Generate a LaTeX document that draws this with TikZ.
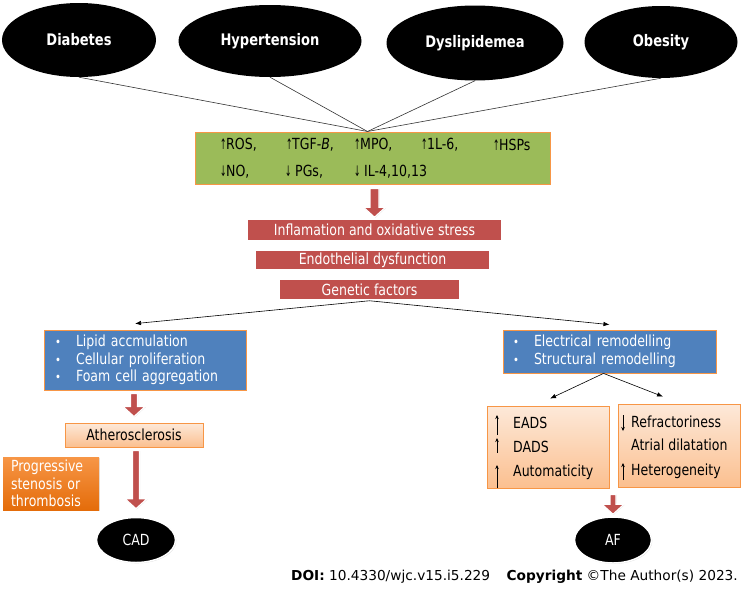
\documentclass[tikz,border=0pt]{standalone}
\usepackage{fontspec}
\setmainfont{DejaVu Sans}[FakeStretch=0.82]
\newfontfamily\doifont{DejaVu Sans}
\usepackage{graphicx}
\usepackage{tikz}
\usetikzlibrary{shapes.geometric,shadows,arrows.meta,calc}

\newcommand{\upar}{\makebox[6pt][l]{\scalebox{0.6}[0.95]{↑}}}
\newcommand{\dnar}{\makebox[6pt][l]{\scalebox{0.6}[0.95]{↓}}}
\newcommand{\bul}{\makebox[21pt][l]{\scalebox{0.8}{•}}}

% red block arrow from one node down to the next (x taken from the lower node)
\newcommand{\blockarrow}[5]{%
  \filldraw[fill=arrowred,draw=white,line width=1.2pt,
    drop shadow={fill=black!25,shadow xshift=0.6pt,shadow yshift=-0.6pt}]
    let \p1=(#1.south), \p2=(#2.north) in
    (\x2-#5pt,\y1-#3pt) -- (\x2+#5pt,\y1-#3pt) -- (\x2+#5pt,\y2+#4pt+10pt)
    -- (\x2+11pt,\y2+#4pt+10pt) -- (\x2,\y2+#4pt) -- (\x2-11pt,\y2+#4pt+10pt)
    -- (\x2-#5pt,\y2+#4pt+10pt) -- cycle;}

\begin{document}
\begin{tikzpicture}[x=1pt,y=-1pt,font=\fontsize{15.3}{17.5}\selectfont,
  risk/.style={ellipse,fill=black,text=white,inner sep=0pt,
    font=\fontsize{15.9}{16}\selectfont\bfseries},
  outcome/.style={ellipse,fill=black,text=white,draw=white,line width=1.5pt,inner sep=0pt,
    drop shadow={fill=black!30,shadow xshift=0.8pt,shadow yshift=-0.8pt}},
  redbox/.style={fill=boxred,draw=white,line width=1.5pt,text=white,inner sep=0pt,
    drop shadow={fill=black!25,shadow xshift=0.8pt,shadow yshift=-0.8pt}},
  bluebox/.style={fill=boxblue,draw=boxorange,line width=0.8pt,text=white,align=left,
    inner ysep=0pt,drop shadow={fill=black!20,shadow xshift=0.8pt,shadow yshift=-0.8pt}},
  litebox/.style={top color=liteorange,bottom color=peach,draw=boxorange,line width=0.8pt,
    inner sep=0pt,drop shadow={fill=black!20,shadow xshift=0.8pt,shadow yshift=-0.8pt}},
  txt/.style={inner sep=0pt,anchor=west},
  tiny arrow/.style={-{Stealth[length=4pt,width=3.5pt]},line width=0.6pt},
  link/.style={-{Latex[length=6pt,width=4.5pt]},line width=0.6pt}]
\definecolor{boxred}{HTML}{C0504D}
\definecolor{arrowred}{HTML}{C0504D}
\definecolor{boxblue}{HTML}{4F81BD}
\definecolor{boxgreen}{HTML}{9BBB59}
\definecolor{boxorange}{HTML}{F79646}
\definecolor{liteorange}{HTML}{FDE9D9}
\definecolor{peach}{HTML}{FBBF8F}
\definecolor{deeporange}{HTML}{E46C0A}

\useasboundingbox (0,0) rectangle (743,589);

% Risk factors
\node[risk,minimum width=154,minimum height=74] (diab) at (79,40) {Diabetes};
\node[risk,minimum width=183,minimum height=72] (hyper) at (270,41) {Hypertension};
\node[risk,minimum width=177,minimum height=75] (dyslip) at (475,43) {Dyslipidemea};
\node[risk,minimum width=153,minimum height=72] (obes) at (661,42) {Obesity};

% Mediators
\node[fill=boxgreen,draw=boxorange,line width=1pt,minimum width=355,minimum height=52,
  inner sep=0pt] (mediators) at (372.5,158) {};
\coordinate (hub) at ([xshift=-5pt]mediators.north);
\foreach \r in {diab,hyper,dyslip,obes}
  \draw[black!80,line width=0.6pt] (\r.south) -- (hub);
\foreach \x/\t [count=\i] in {220/{\upar ROS,},286/{\upar TGF-\textit{B},},
    354/{\upar MPO,},421/{\upar 1L-6,},493/{\upar HSPs}}
  \node[txt] (up\i) at (\x,145) {\t};
\foreach \x/\t [count=\i] in {220/{\dnar NO,},285/{\dnar\ PGs,},354/{\dnar\ IL-4,10,13}}
  \node[txt] (dn\i) at (\x,172) {\t};

% Inflammation cascade
\node[redbox,minimum width=255,minimum height=22] (inflam) at (374.5,230) {Inflamation and oxidative stress};
\node[redbox,minimum width=235,minimum height=20] (endo) at (372.5,260) {Endothelial dysfunction};
\node[redbox,minimum width=181,minimum height=21] (gene) at (369.5,289.5) {Genetic factors};
\blockarrow{mediators}{inflam}{4}{1}{4.5}

% Two branches
\node[bluebox,minimum height=60,text width=180,inner xsep=11pt] (lipid) at (145,360)
  {\bul Lipid accmulation\\\bul Cellular proliferation\\\bul Foam cell aggregation};
\node[bluebox,minimum height=43,text width=193,inner xsep=10pt] (remod) at (609.5,351.5)
  {\bul Electrical remodelling\\\bul Structural remodelling};
\draw[link] (gene.south) -- ([xshift=-10pt,yshift=6pt]lipid.north);
\draw[link] (gene.south) -- ([yshift=5pt]remod.north);

% CAD side
\node[litebox,minimum width=138,minimum height=24] (athero) at (134,435) {Atherosclerosis};
\node[top color=boxorange,bottom color=deeporange,text=white,align=left,text width=80,
  inner xsep=8pt,inner ysep=0pt,minimum height=53,
  drop shadow={fill=black!20,shadow xshift=0.8pt,shadow yshift=-0.8pt}] (prog) at (51,483.5)
  {Progressive\\stenosis or\\thrombosis};
\node[outcome,minimum width=79,minimum height=45] (cad) at (136,540) {CAD};
\blockarrow{lipid}{athero}{3}{6}{3.5}
\blockarrow{athero}{cad}{3}{8}{3.5}

% AF side
\node[litebox,minimum width=122,minimum height=82] (trigger) at (548,447) {};
\node[litebox,minimum width=122,minimum height=83] (substrate) at (679,445.5) {};
\draw[link] ([xshift=-6pt]remod.south) -- ([xshift=2pt,yshift=7pt]trigger.north);
\draw[link] ([xshift=-6pt]remod.south) -- ([xshift=-16pt,yshift=7pt]substrate.north);

\node[txt] (eads) at (513,423) {EADS};
\node[txt] (dads) at (513,447) {DADS};
\node[txt] (autom) at (513,472) {Automaticity};
\node[txt] (refr) at (631,422) {Refractoriness};
\node[txt] (dilat) at (631,445) {Atrial dilatation};
\node[txt] (hetero) at (631,471) {Heterogeneity};
\draw[tiny arrow] ([xshift=-16pt,yshift=-12pt]eads.west) -- ([xshift=-16pt,yshift=8pt]eads.west);
\draw[tiny arrow] ([xshift=-16pt,yshift=-6pt]dads.west) -- ([xshift=-16pt,yshift=9pt]dads.west);
\draw[tiny arrow] ([xshift=-16pt,yshift=-16pt]autom.west) -- ([xshift=-16pt,yshift=7pt]autom.west);
\draw[tiny arrow] ([xshift=-8pt,yshift=7pt]refr.west) -- ([xshift=-8pt,yshift=-9pt]refr.west);
\draw[tiny arrow] ([xshift=-8pt,yshift=-9pt]hetero.west) -- ([xshift=-8pt,yshift=8pt]hetero.west);

\node[outcome,minimum width=77,minimum height=46] (af) at (613,540) {AF};
\blockarrow{substrate}{af}{7}{2}{3}

% Citation
\node[inner sep=0pt,anchor=east,font=\doifont\fontsize{13.7}{14}\selectfont] (doi) at (738,577)
  {\textbf{DOI:} 10.4330/wjc.v15.i5.229\hspace{1.2em}\textbf{Copyright} ©The Author(s) 2023.};
\end{tikzpicture}
\end{document}
